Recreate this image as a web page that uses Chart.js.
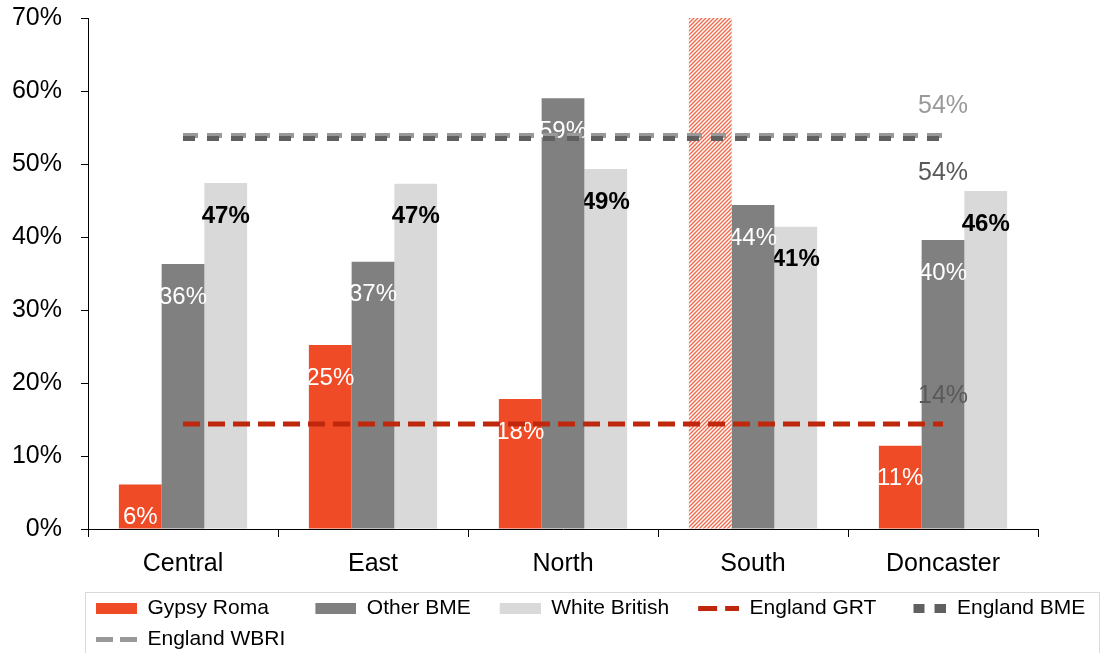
<!DOCTYPE html>
<html>
<head>
<meta charset="utf-8">
<script src="https://cdn.jsdelivr.net/npm/chart.js@4.4.1/dist/chart.umd.min.js"></script>
<style>
  html, body { margin: 0; padding: 0; background: #fff; overflow: hidden; }
  #wrap { width: 1102px; height: 660px; }
</style>
</head>
<body>
<div id="wrap"><canvas id="grafico"></canvas></div>
<script>
// dati
const categorie = ['Central', 'East', 'North', 'South', 'Doncaster'];
const gypsyRoma = [6.1, 25.2, 17.8, 70, 11.4];          // South: barra tratteggiata fino in cima
const gypsyRomaTratteggio = [false, false, false, true, false];
const altriBME = [36.3, 36.6, 59.0, 44.4, 39.6];
const whiteBritish = [47.4, 47.3, 49.3, 41.4, 46.3];
const englandGRT = [14.4, 14.4, 14.4, 14.4, 14.4];
const englandBME = [53.5, 53.5, 53.5, 53.5, 53.5];
const englandWBRI = [53.9, 53.9, 53.9, 53.9, 53.9];
const tickY = [0, 10, 20, 30, 40, 50, 60, 70];

const FONT = '"Liberation Sans", Arial, sans-serif';
Chart.defaults.font.family = FONT;
Chart.defaults.color = '#000';

const ctx = document.getElementById('grafico').getContext('2d');

// tratteggio diagonale per la barra South
function creaTratteggio() {
    const c = document.createElement('canvas');
    c.width = 4; c.height = 4;
    const g = c.getContext('2d');
    g.fillStyle = '#fff';
    g.fillRect(0, 0, 4, 4);
    g.strokeStyle = '#F26A4C';
    g.lineWidth = 1.4;
    g.beginPath();
    g.moveTo(-1, 5); g.lineTo(5, -1);
    g.moveTo(-1, 1); g.lineTo(1, -1);
    g.moveTo(3, 5); g.lineTo(5, 3);
    g.stroke();
    return ctx.createPattern(c, 'repeat');
}

// icone della legenda (larghe 60, campione nei 41px a destra)
function iconaBox(colore) {
    const c = document.createElement('canvas');
    c.width = 60; c.height = 11;
    const g = c.getContext('2d');
    g.fillStyle = colore;
    g.fillRect(19, 0, 41, 11);
    return c;
}
function iconaTrattini(colore, pezzi, h) {
    const c = document.createElement('canvas');
    c.width = 60; c.height = 11;
    const g = c.getContext('2d');
    g.fillStyle = colore;
    pezzi.forEach(p => g.fillRect(p[0], (11 - h) / 2, p[1], h));
    return c;
}

const tratteggio = creaTratteggio();

const etichette = {
    id: 'etichette',
    afterLayout(chart) {
        // la legenda usa tutta la larghezza della pagina, non solo l'area del grafico
        const leg = chart.legend;
        leg.maxWidth = 1102;
        leg.fit();
        leg.left = 67;
        leg.right = 1102;
    },
    afterDatasetDraw(chart, args) {
        const ds = chart.data.datasets[args.index];
        const meta = args.meta;
        const c = chart.ctx;
        c.save();
        c.textAlign = 'center';
        c.textBaseline = 'middle';
        c.fillStyle = ds.coloreEtichetta;
        if (meta.type === 'bar') {
            c.font = (ds.grassetto ? 'bold ' : '') + '24px ' + FONT;
            meta.data.forEach((bar, i) => {
                if (ds.senzaEtichetta && ds.senzaEtichetta[i]) return;
                c.fillText(Math.round(ds.data[i]) + '%', bar.x, bar.y + 33);
            });
        } else {
            c.font = '25px ' + FONT;
            const last = meta.data.length - 1;
            const p = meta.data[last];
            c.fillText(Math.round(ds.data[last]) + '%', p.x, p.y + ds.spostaEtichetta);
        }
        c.restore();
    },
    afterDraw(chart) {
        const c = chart.ctx;
        c.save();
        c.strokeStyle = '#D9D9D9';
        c.lineWidth = 1;
        c.strokeRect(85.5, 592.5, 1014, 70);
        c.restore();
    }
};

new Chart(ctx, {
    type: 'bar',
    data: {
        labels: categorie,
        datasets: [
            {
                label: 'Gypsy Roma', data: gypsyRoma, order: 1,
                backgroundColor: gypsyRomaTratteggio.map(t => t ? tratteggio : '#EE4B26'),
                coloreEtichetta: '#fff', senzaEtichetta: gypsyRomaTratteggio,
                icona: iconaBox('#EE4B26')
            },
            {
                label: 'Other BME', data: altriBME, order: 1,
                backgroundColor: '#808080', coloreEtichetta: '#fff',
                icona: iconaBox('#808080')
            },
            {
                label: 'White British', data: whiteBritish, order: 1,
                backgroundColor: '#D9D9D9', coloreEtichetta: '#000', grassetto: true,
                icona: iconaBox('#D9D9D9')
            },
            {
                type: 'line', label: 'England GRT', data: englandGRT, order: 0,
                borderColor: '#C0280E', borderWidth: 5, borderDash: [17, 8],
                pointRadius: 0, fill: false,
                coloreEtichetta: '#595959', spostaEtichetta: -28,
                icona: iconaTrattini('#C0280E', [[19, 19], [46, 14]], 5)
            },
            {
                type: 'line', label: 'England BME', data: englandBME, order: 0,
                borderColor: '#606060', borderWidth: 5, borderDash: [12, 12],
                pointRadius: 0, fill: false,
                coloreEtichetta: '#595959', spostaEtichetta: 35,
                icona: iconaTrattini('#606060', [[27, 11], [48, 12]], 9)
            },
            {
                type: 'line', label: 'England WBRI', data: englandWBRI, order: 0,
                borderColor: '#999999', borderWidth: 5, borderDash: [15, 9],
                pointRadius: 0, fill: false,
                coloreEtichetta: '#999999', spostaEtichetta: -29,
                icona: iconaTrattini('#999999', [[19, 17], [43, 17]], 5)
            }
        ]
    },
    options: {
        responsive: true,
        maintainAspectRatio: false,
        animation: false,
        layout: { padding: { top: 18, right: 64, left: 0, bottom: 0 } },
        datasets: {
            bar: { categoryPercentage: 0.675, barPercentage: 1 }
        },
        scales: {
            x: {
                grid: { offset: true, drawOnChartArea: false, drawTicks: true, tickLength: 8, color: '#000' },
                border: { color: '#000', width: 1 },
                ticks: { color: '#000', font: { size: 25 }, padding: 12 },
                afterFit: s => { s.height = 59; }
            },
            y: {
                min: 0, max: 70,
                afterBuildTicks: s => { s.ticks = tickY.map(v => ({ value: v })); },
                ticks: { color: '#000', font: { size: 25 }, padding: 19, callback: v => v + '%' },
                grid: { drawOnChartArea: false, drawTicks: true, tickLength: 7, color: '#000' },
                border: { color: '#000', width: 1 },
                afterFit: s => { s.width = 88; s.paddingTop = 0; s.paddingBottom = 0; }
            }
        },
        plugins: {
            tooltip: { enabled: false },
            legend: {
                position: 'bottom',
                align: 'start',
                labels: {
                    usePointStyle: true,
                    pointStyleWidth: 60,
                    boxHeight: 11,
                    padding: 10,
                    color: '#000',
                    font: { size: 21 },
                    generateLabels: function (chart) {
                        return chart.data.datasets.map((ds, i) => ({
                            text: ds.label + (i === 0 ? '   ' : ''),
                            pointStyle: ds.icona,
                            fillStyle: 'transparent',
                            strokeStyle: 'transparent',
                            lineWidth: 0,
                            hidden: false,
                            datasetIndex: i,
                            fontColor: '#000'
                        }));
                    }
                }
            }
        }
    },
    plugins: [etichette]
});
</script>
</body>
</html>
